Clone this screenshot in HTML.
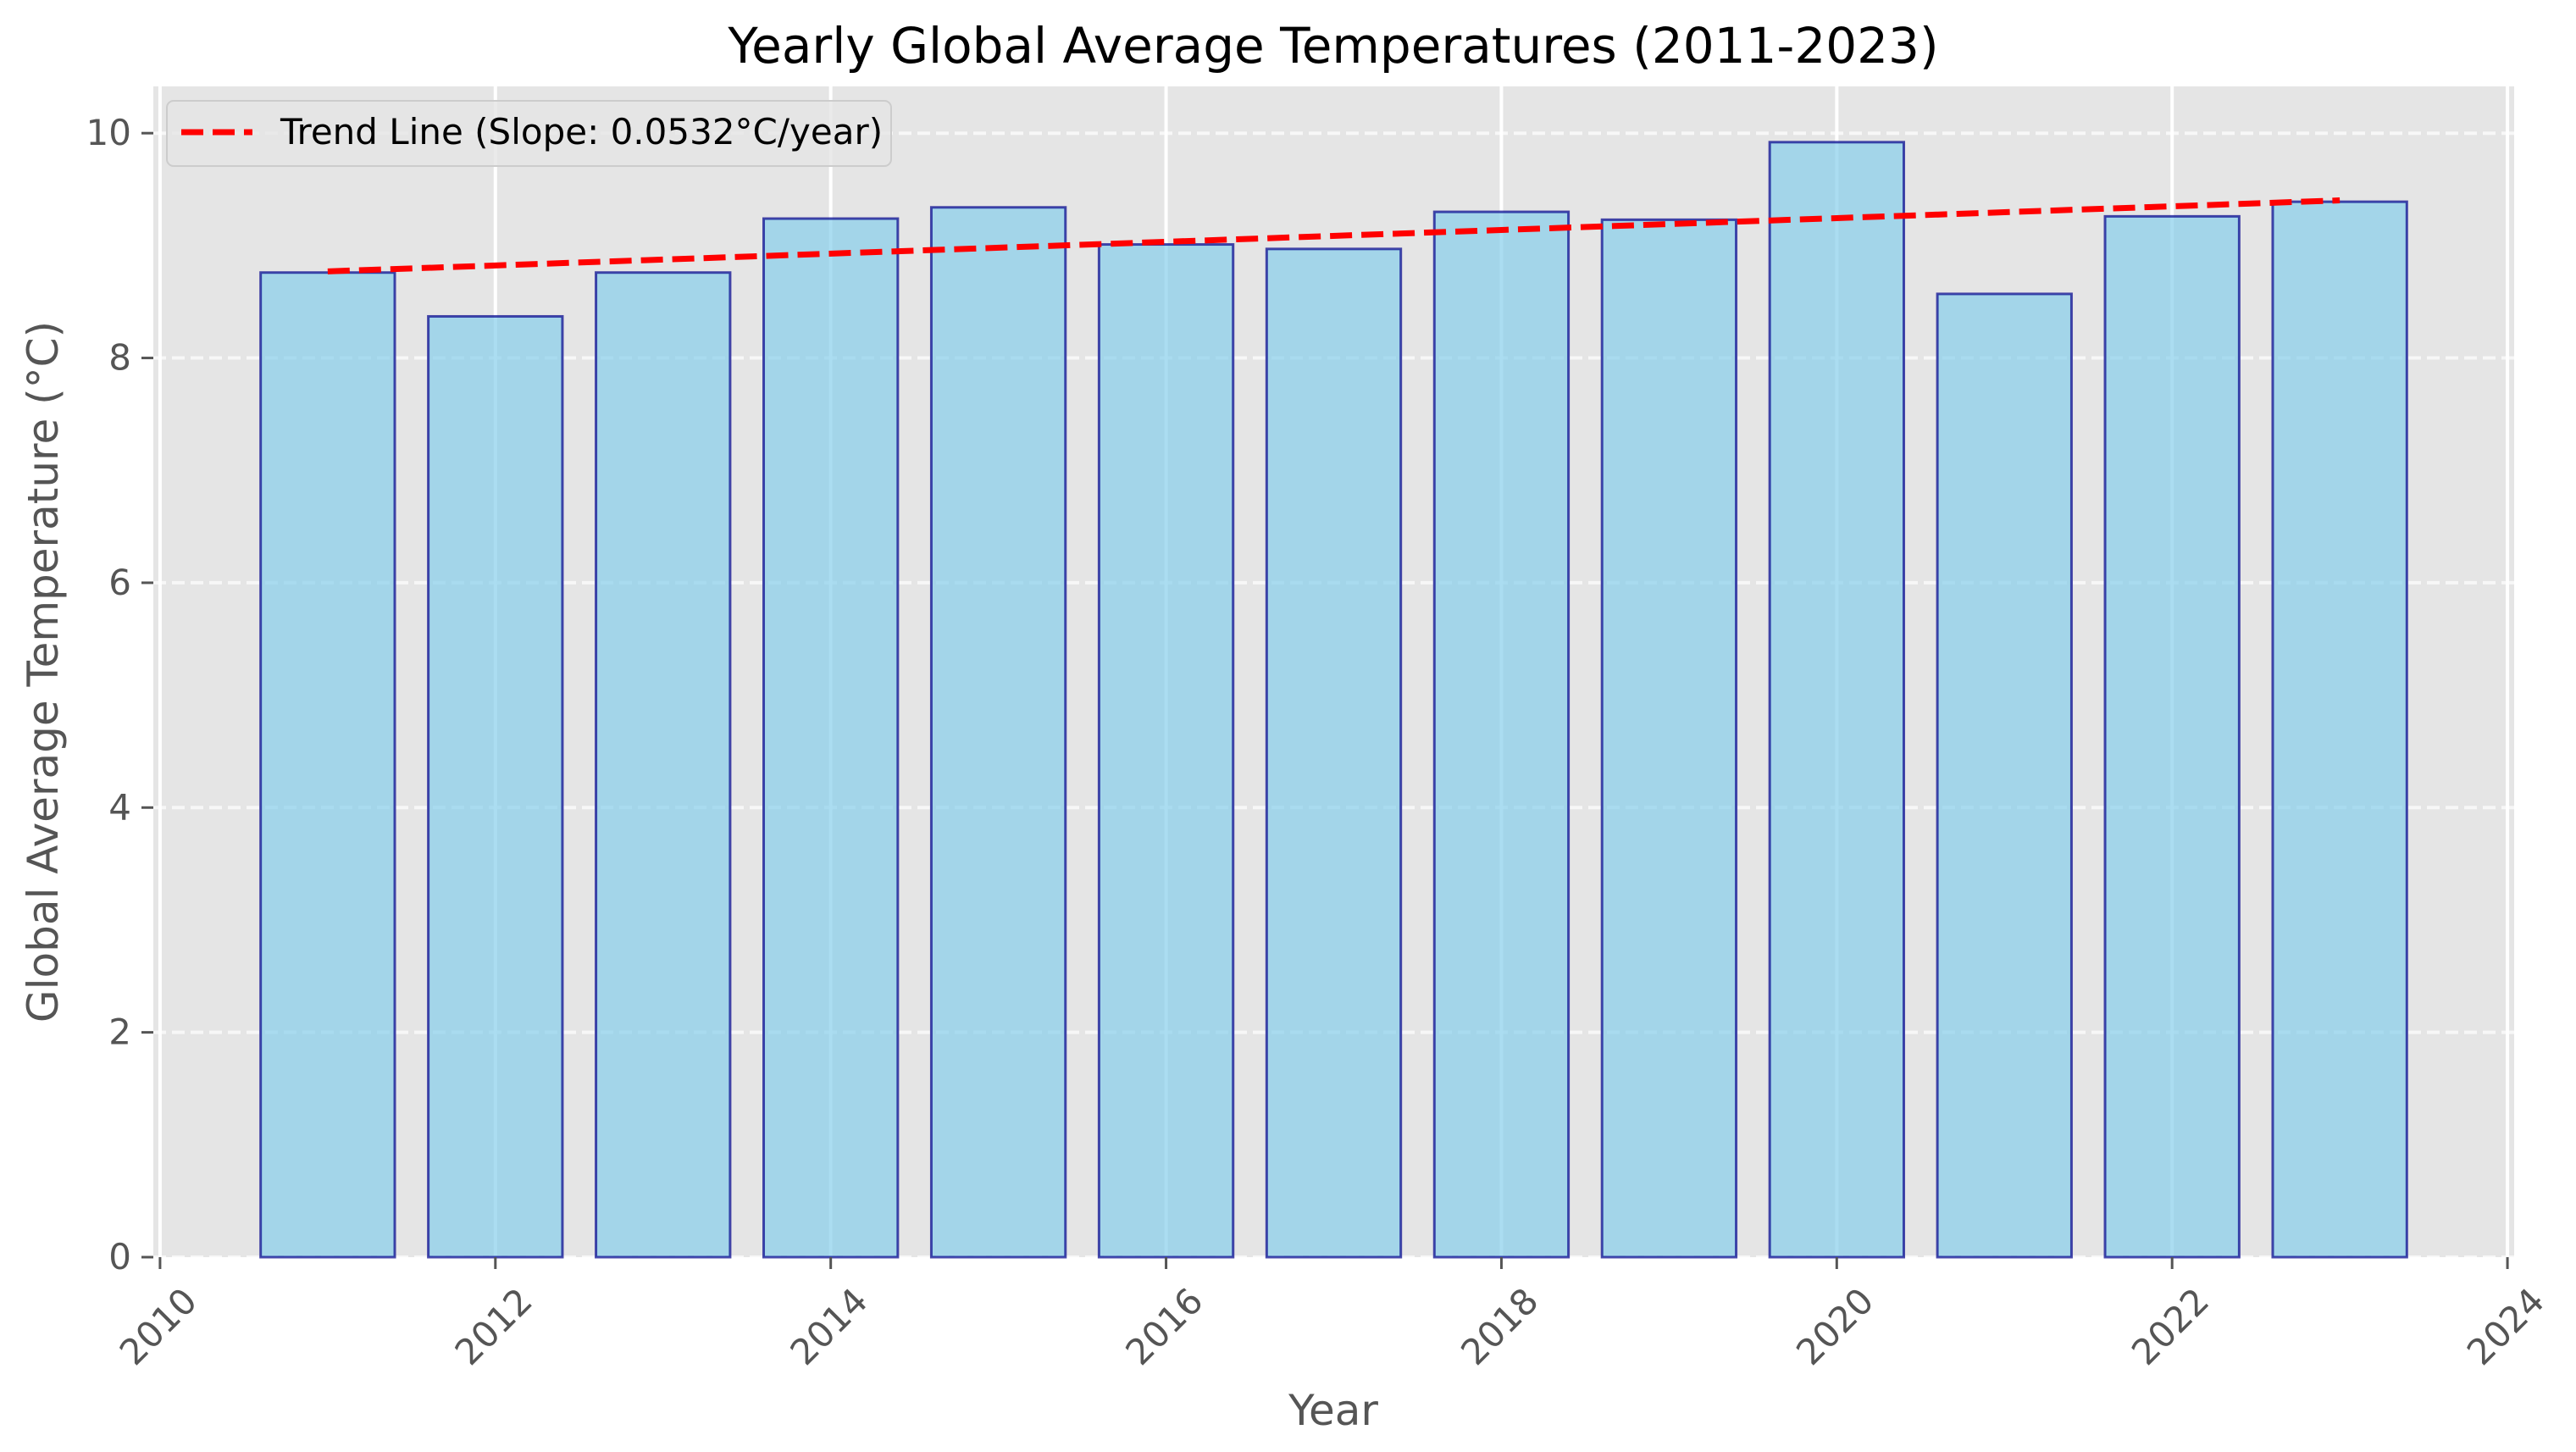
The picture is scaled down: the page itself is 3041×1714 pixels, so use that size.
<!DOCTYPE html>
<html><head><meta charset="utf-8"><style>
html,body{margin:0;padding:0;background:#fff;}
svg{display:block;font-family:"DejaVu Sans","Liberation Sans",sans-serif;}
</style></head><body>
<svg id="chart" width="3041" height="1714" viewBox="0 0 3041 1714" xmlns="http://www.w3.org/2000/svg">
<rect x="0" y="0" width="3041" height="1714" fill="#ffffff"/>
<rect x="181" y="102" width="2787" height="1382" fill="#E5E5E5"/>
<g id="grid"></g>
<g id="bars"></g>
<g id="trend"></g>
<g id="xticks"></g>
<g id="yticks"></g>
<text x="1574" y="74" text-anchor="middle" font-size="58" fill="#000">Yearly Global Average Temperatures (2011-2023)</text>
<text x="1574" y="1682" text-anchor="middle" font-size="50" fill="#555">Year</text>
<text transform="translate(68,793) rotate(-90)" text-anchor="middle" font-size="50" fill="#555">Global Average Temperature (°C)</text>
<g>
<rect x="197" y="119" width="855" height="77" rx="8" fill="#E5E5E5" fill-opacity="0.8" stroke="#cccccc" stroke-width="2"/>
<line x1="214" y1="156" x2="298" y2="156" stroke="#ff0000" stroke-width="7" stroke-dasharray="26 11"/>
<text id="legendText" x="331" y="170" font-size="42" fill="#000">Trend Line (Slope: 0.0532°C/year)</text>
</g>
</svg>
<script>
const years = [2011,2012,2013,2014,2015,2016,2017,2018,2019,2020,2021,2022,2023];
const temps = [8.76,8.37,8.76,9.24,9.34,9.01,8.97,9.30,9.23,9.92,8.57,9.26,9.39];
const slopeLabel = ["0.0532"];
const xTickLabels = [2010,2012,2014,2016,2018,2020,2022,2024];
const yTickLabels = [0,2,4,6,8,10];

const NS = "http://www.w3.org/2000/svg";
const PL = 181, PR = 2968, PT = 102, PB = 1484;
const xMin = 2009.96, xMax = 2024.04, yMin = 0, yMax = 10.416;
function xs(v){ return PL + (v - xMin) / (xMax - xMin) * (PR - PL); }
function ys(v){ return PB - (v - yMin) / (yMax - yMin) * (PB - PT); }
function mk(tag, attrs, parent){
  const e = document.createElementNS(NS, tag);
  for (const k in attrs) e.setAttribute(k, attrs[k]);
  parent.appendChild(e);
  return e;
}
const grid = document.getElementById('grid');
xTickLabels.forEach(t => {
  const l = mk('line', {x1: xs(t), x2: xs(t), y1: PT, y2: PB, stroke: '#ffffff', 'stroke-width': 4}, grid);
  
  
});
yTickLabels.forEach(t => {
  const l = mk('line', {x1: PL, x2: PR, y1: ys(t), y2: ys(t), stroke: '#ffffff', 'stroke-opacity': 0.7, 'stroke-width': 4, 'stroke-dasharray': '15 7'}, grid);
  
  
});
const bars = document.getElementById('bars');
years.forEach((yr, i) => {
  const x0 = xs(yr - 0.4), x1 = xs(yr + 0.4);
  const r = mk('rect', {x: x0, y: ys(temps[i]), width: x1 - x0, height: ys(0) - ys(temps[i]), fill: '#87CEEB', 'fill-opacity': 0.7, stroke: '#00008B', 'stroke-opacity': 0.7, 'stroke-width': 3}, bars);
  
  
});
const n = years.length;
const mx = years.reduce((a,b)=>a+b,0)/n, my = temps.reduce((a,b)=>a+b,0)/n;
let sxy = 0, sxx = 0;
for (let i = 0; i < n; i++){ sxy += (years[i]-mx)*(temps[i]-my); sxx += (years[i]-mx)**2; }
const slope = sxy / sxx, icpt = my - slope * mx;
const trend = document.getElementById('trend');
const tl = mk('line', {x1: xs(years[0]), y1: ys(icpt + slope*years[0]), x2: xs(years[n-1]), y2: ys(icpt + slope*years[n-1]), stroke: '#ff0000', 'stroke-width': 7, 'stroke-dasharray': '26 11'}, trend);


document.getElementById('legendText').textContent = 'Trend Line (Slope: ' + slopeLabel[0] + '°C/year)';

const xt = document.getElementById('xticks');
xTickLabels.forEach(t => {
  const m = mk('line', {x1: xs(t), x2: xs(t), y1: PB, y2: PB + 14, stroke: '#555', 'stroke-width': 3}, xt);
  
  
  const tx = mk('text', {x: 0, y: 0, 'text-anchor': 'middle', 'dominant-baseline': 'middle', 'font-size': 42, fill: '#555', transform: 'translate(' + xs(t) + ',1568) rotate(-45)'}, xt);
  tx.textContent = t;
  
  
});
const yt = document.getElementById('yticks');
yTickLabels.forEach(t => {
  const m = mk('line', {x1: PL - 14, x2: PL, y1: ys(t), y2: ys(t), stroke: '#555', 'stroke-width': 3}, yt);
  
  
  const tx = mk('text', {x: PL - 26, y: ys(t) + 14, 'text-anchor': 'end', 'font-size': 42, fill: '#555'}, yt);
  tx.textContent = t;
  
  
});
</script>
</body></html>
